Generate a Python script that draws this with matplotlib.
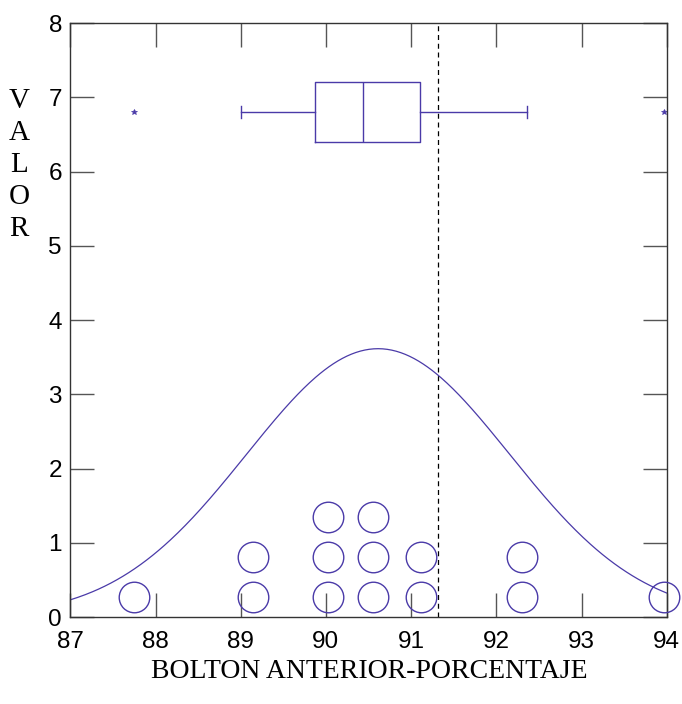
import matplotlib
matplotlib.use('Agg')
import matplotlib.pyplot as plt
import numpy as np

# dot plot: binned positions and how many dots are stacked on each
dot_x = [87.75, 89.15, 90.02, 90.55, 91.12, 92.30, 93.97]
dot_count = [1, 2, 3, 3, 2, 2, 1]
dot_rows = [0.27, 0.81, 1.35]

# box plot summary (drawn at y = 6.8)
box_stats = {'whislo': 89.0, 'q1': 89.87, 'med': 90.43, 'q3': 91.10,
             'whishi': 92.36, 'fliers': [87.75, 93.97]}
box_y = 6.8

ref_line = 91.31

x_ticks = [87, 88, 89, 90, 91, 92, 93, 94]
y_ticks = [0, 1, 2, 3, 4, 5, 6, 7, 8]

line_color = '#4a3aa8'

fig = plt.figure(figsize=(6.82, 7.04), dpi=100)
ax = fig.add_axes([0.1031, 0.1232, 0.8745, 0.8441])

# dots
xs, ys = [], []
for x, n in zip(dot_x, dot_count):
    for i in range(n):
        xs.append(x)
        ys.append(dot_rows[i])
ax.plot(xs, ys, 'o', ms=22, mfc='none', mec=line_color, mew=1.0, clip_on=False, zorder=3)

# fitted normal curve from the dot values
vals = np.repeat(dot_x, dot_count)
mu, sd = vals.mean(), vals.std(ddof=1)
xx = np.linspace(87, 94, 400)
yy = len(vals) * np.exp(-(xx - mu) ** 2 / (2 * sd ** 2)) / (sd * np.sqrt(2 * np.pi))
ax.plot(xx, yy, color=line_color, lw=0.9)

# box plot
ax.bxp([box_stats], positions=[box_y], widths=0.8, vert=False,
       capwidths=0.17, showfliers=True,
       boxprops=dict(color=line_color, lw=1.0),
       medianprops=dict(color=line_color, lw=1.0),
       whiskerprops=dict(color=line_color, lw=1.0),
       capprops=dict(color=line_color, lw=1.0),
       flierprops=dict(marker='*', ms=4, mfc=line_color, mec=line_color, mew=0.5))

ax.axvline(ref_line, color='black', ls=(0, (4, 3)), lw=0.9)

ax.set_xlim(87, 94)
ax.set_ylim(0, 8)
ax.set_xticks(x_ticks)
ax.set_yticks(y_ticks)
ax.set_yticklabels([str(v) for v in y_ticks])
ax.tick_params(direction='in', length=17, width=1.0, color='#555555',
               top=True, right=True, labelsize=17.5)
ax.tick_params(axis='x', pad=10)
ax.tick_params(axis='y', pad=6)
for lab in ax.get_xticklabels() + ax.get_yticklabels():
    lab.set_family('Liberation Sans')
for s in ax.spines.values():
    s.set_color('#333333')
    s.set_linewidth(1.0)

fig.text(0.541, 0.046, 'BOLTON ANTERIOR-PORCENTAJE', ha='center', va='center',
         family='Liberation Serif', fontsize=20)
fig.text(0.028, 0.765, 'V\nA\nL\nO\nR', ha='center', va='center',
         family='Liberation Serif', fontsize=21, linespacing=1.3)

fig.savefig('out.png', dpi=100)
